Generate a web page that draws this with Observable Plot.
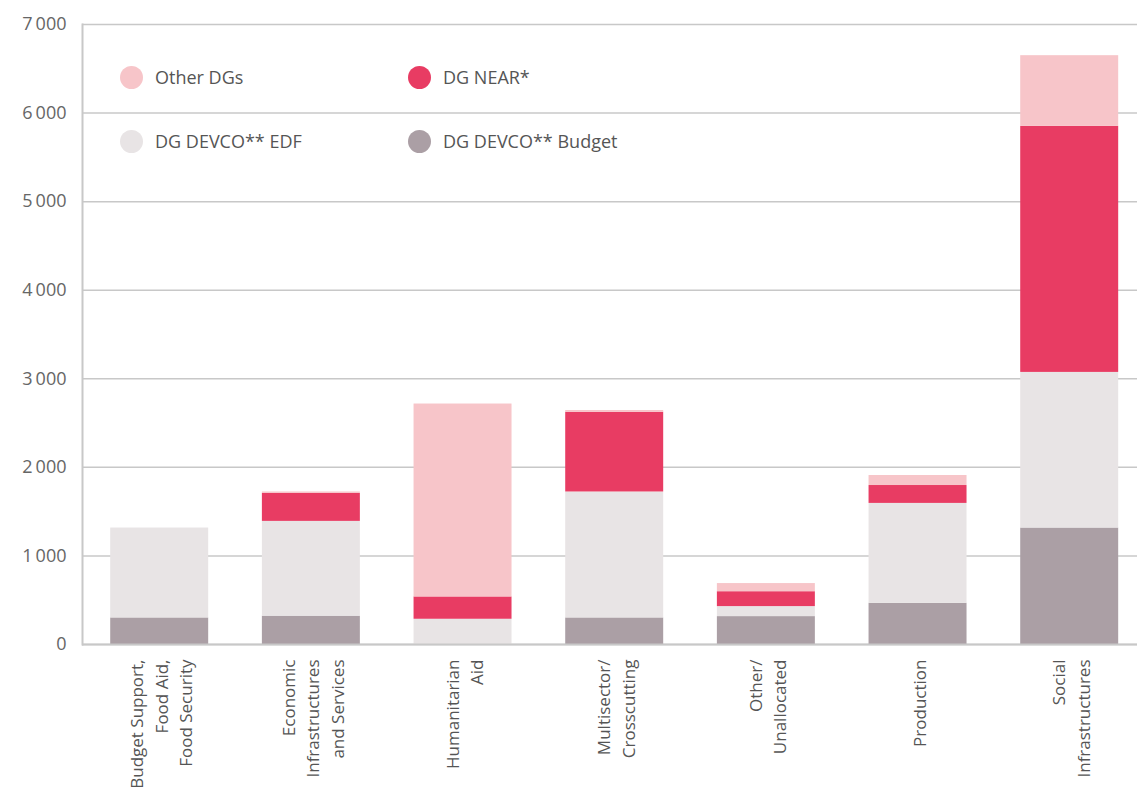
<!DOCTYPE html>
<html>
<head>
<meta charset="utf-8">
<script src="https://cdn.jsdelivr.net/npm/d3@7"></script>
<script src="https://cdn.jsdelivr.net/npm/@observablehq/plot@0.6"></script>
<style>
  html, body { margin: 0; padding: 0; background: #fff; }
  #wrap { position: relative; width: 1137px; height: 799px; font-family: "Open Sans", sans-serif; }
  #legend { position: absolute; left: 120px; top: 64px; display: grid; grid-template-columns: 288px 260px; row-gap: 38px; }
  .item { display: flex; align-items: center; font-size: 18px; color: #555; height: 26px; }
  .sw { width: 23px; height: 23px; border-radius: 50%; margin-right: 12px; }
</style>
</head>
<body>
<div id="wrap"><div id="legend"></div></div>
<script>
const categories = [
  "Budget Support,\nFood Aid,\nFood Security",
  "Economic\nInfrastructures\nand Services",
  "Humanitarian\nAid",
  "Multisector/\nCrosscutting",
  "Other/\nUnallocated",
  "Production",
  "Social\nInfrastructures"
];
const seriesNames = ["DG DEVCO** Budget", "DG DEVCO** EDF", "DG NEAR*", "Other DGs"];
const budget = [300, 320, 0, 300, 315, 465, 1315];
const edf    = [1015, 1070, 285, 1422, 113, 1128, 1757];
const near   = [0, 316, 252, 900, 168, 202, 2778];
const other  = [0, 16, 2178, 20, 92, 113, 798];
const yTicks = [0, 1000, 2000, 3000, 4000, 5000, 6000, 7000];
const colors = {"DG DEVCO** Budget": "#ab9fa5", "DG DEVCO** EDF": "#e8e4e5", "DG NEAR*": "#e83c63", "Other DGs": "#f7c5c9"};
const legendOrder = ["Other DGs", "DG NEAR*", "DG DEVCO** EDF", "DG DEVCO** Budget"];

const valuesBySeries = [budget, edf, near, other];
const data = [];
seriesNames.forEach((s, si) => {
  categories.forEach((c, ci) => data.push({category: c, series: s, value: valuesBySeries[si][ci]}));
});

const fmt = d => d3.format(",")(d).replace(",", "\u2009");

const chart = Plot.plot({
  width: 1137,
  height: 799,
  marginTop: 24,
  marginBottom: 155,
  marginLeft: 82,
  marginRight: 0,
  style: {fontFamily: "'Open Sans', sans-serif", background: "#fff"},
  x: {domain: categories, paddingInner: 0.354, paddingOuter: 0.155, align: 0.6, round: false, axis: null},
  y: {domain: [0, 7000], ticks: yTicks, axis: null},
  color: {domain: seriesNames, range: seriesNames.map(s => colors[s])},
  marks: [
    Plot.gridY(yTicks, {stroke: "#c8c8c8", strokeOpacity: 1, strokeWidth: 1.5}),
    Plot.barY(data, {x: "category", y: "value", fill: "series", order: seriesNames}),
    Plot.ruleY([0], {stroke: "#c8c8c8", strokeWidth: 2}),
    Plot.frame({anchor: "left", stroke: "#c8c8c8", strokeWidth: 2}),
    Plot.axisY(yTicks, {tickSize: 0, tickPadding: 16, tickFormat: fmt, fontSize: 18, fill: "#666", label: null}),
    Plot.text(categories, {x: d => d, frameAnchor: "bottom", dy: 15, rotate: -90, textAnchor: "end", lineAnchor: "middle", lineHeight: 1.44, fontSize: 17, fill: "#555", text: d => d})
  ]
});
document.getElementById("wrap").prepend(chart);

const legend = d3.select("#legend");
legendOrder.forEach(s => {
  const it = legend.append("div").attr("class", "item");
  it.append("div").attr("class", "sw").style("background", colors[s]);
  it.append("span").text(s);
});
</script>
</body>
</html>
